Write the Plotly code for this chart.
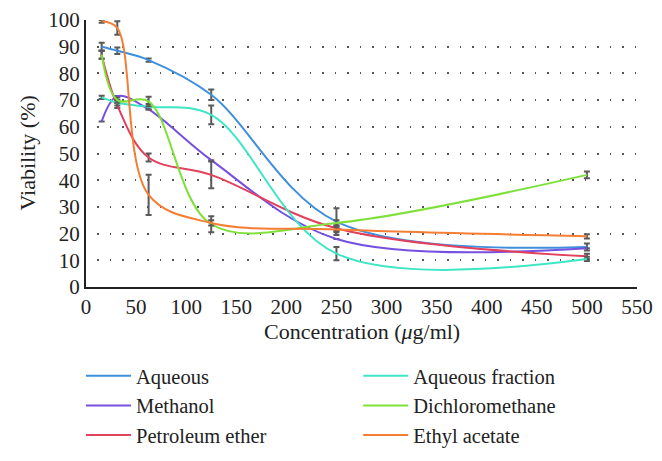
import plotly.graph_objects as go

conc = [15.625, 31.25, 62.5, 125, 250, 500]

aqueous = [90, 88.5, 85, 72, 24.5, 15]
aqueous_err = [1.5, 1.2, 0.6, 2, 5, 1.3]
aqueous_fraction = [71, 69, 67.5, 64.5, 12.5, 10.5]
aqueous_fraction_err = [0.6, 1, 1, 3.5, 2.5, 0.8]
methanol = [62, 71.5, 66.5, 47.5, 18, 14.5]
methanol_err = [0, 0, 0, 0, 0, 0]
dichloromethane = [87, 70, 69.5, 23.5, 24, 42]
dichloromethane_err = [1.5, 1, 1.8, 3, 1, 1.3]
petroleum_ether = [87, 68, 48.5, 42, 22, 11.5]
petroleum_ether_err = [1.5, 1, 1.5, 5, 1, 1]
ethyl_acetate = [99.5, 97, 34.5, 24, 21.5, 19]
ethyl_acetate_err = [0.5, 2.5, 7.5, 1, 1, 0.8]

x_title = "Concentration (<i>μ</i>g/ml)"
y_title = "Viability (%)"

# (name, values, errors, colour, legend column)
series = [
    ("Aqueous", aqueous, aqueous_err, "#3d8fdc", "legend"),
    ("Methanol", methanol, methanol_err, "#7650e0", "legend"),
    ("Petroleum ether", petroleum_ether, petroleum_ether_err, "#e2405c", "legend"),
    ("Aqueous fraction", aqueous_fraction, aqueous_fraction_err, "#3fe6c6", "legend2"),
    ("Dichloromethane", dichloromethane, dichloromethane_err, "#7fe03a", "legend2"),
    ("Ethyl acetate", ethyl_acetate, ethyl_acetate_err, "#f57e34", "legend2"),
]

FONT = "Liberation Serif"

fig = go.Figure()
for name, y, err, col, leg in series:
    fig.add_trace(go.Scatter(
        x=conc, y=y, name=name, mode="lines", legend=leg,
        line=dict(color=col, width=2, shape="spline", smoothing=1.0),
        error_y=dict(type="data", array=err, visible=True,
                     color="#5a5a5a", thickness=2, width=3),
    ))

legend_common = dict(orientation="v", xref="container", yref="container",
                     y=0.232, yanchor="top",
                     font=dict(size=20.5, family=FONT, color="#222"),
                     bgcolor="rgba(0,0,0,0)", tracegroupgap=0,
                     itemwidth=45)

fig.update_layout(
    width=654, height=453,
    margin=dict(l=78, r=25, t=12, b=174, autoexpand=False),
    paper_bgcolor="white", plot_bgcolor="white",
    font=dict(family=FONT, size=21, color="#222"),
    xaxis=dict(range=[0, 550], dtick=50, tick0=0, showgrid=False,
               showline=True, linecolor="#222", linewidth=2,
               ticks="", zeroline=False, automargin=False),
    yaxis=dict(range=[0, 100], dtick=10, tick0=0, showgrid=True,
               gridcolor="#555", griddash="0px,11px,1.5px,0px", gridwidth=1.5,
               showline=True, linecolor="#222", linewidth=2,
               ticks="", zeroline=False, automargin=False),
    legend=dict(x=0.1116, xanchor="left", **legend_common),
    legend2=dict(x=0.5355, xanchor="left", **legend_common),
    showlegend=True,
    annotations=[
        dict(text=x_title, xref="paper", yref="paper", x=0.5, y=-0.168,
             xanchor="center", yanchor="middle", showarrow=False,
             font=dict(size=22, family=FONT, color="#222")),
        dict(text=y_title, xref="paper", yref="paper", x=-0.107, y=0.5,
             xanchor="center", yanchor="middle", showarrow=False,
             textangle=-90, font=dict(size=22, family=FONT, color="#222")),
    ],
)

fig.write_html("out.html")
